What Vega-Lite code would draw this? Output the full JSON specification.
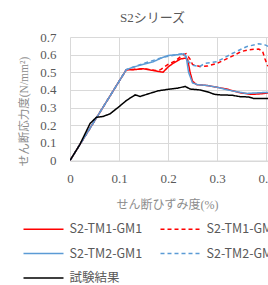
{
  "$schema": "https://vega.github.io/schema/vega-lite/v6.json",
  "autosize": "none",
  "padding": {"left": 70, "top": 37, "right": 0, "bottom": 125},
  "width": 245,
  "height": 123.5,
  "background": "white",
  "title": {"text": "S2シリーズ", "font": "Liberation Serif, Noto Sans CJK JP", "fontSize": 13, "fontWeight": "normal", "color": "#595959", "anchor": "middle", "dx": -40, "offset": 6},
  "config": {"view": {"stroke": null}},
  "data": {"values": [
    {"s": "S2-TM1-GM1", "x": 0, "y": 0},
    {"s": "S2-TM1-GM1", "x": 0.115, "y": 0.515},
    {"s": "S2-TM1-GM1", "x": 0.13, "y": 0.515},
    {"s": "S2-TM1-GM1", "x": 0.15, "y": 0.52},
    {"s": "S2-TM1-GM1", "x": 0.17, "y": 0.51},
    {"s": "S2-TM1-GM1", "x": 0.19, "y": 0.5},
    {"s": "S2-TM1-GM1", "x": 0.2, "y": 0.53},
    {"s": "S2-TM1-GM1", "x": 0.21, "y": 0.55},
    {"s": "S2-TM1-GM1", "x": 0.225, "y": 0.575},
    {"s": "S2-TM1-GM1", "x": 0.235, "y": 0.58},
    {"s": "S2-TM1-GM1", "x": 0.24, "y": 0.575},
    {"s": "S2-TM1-GM1", "x": 0.245, "y": 0.5},
    {"s": "S2-TM1-GM1", "x": 0.25, "y": 0.45},
    {"s": "S2-TM1-GM1", "x": 0.258, "y": 0.43},
    {"s": "S2-TM1-GM1", "x": 0.28, "y": 0.425},
    {"s": "S2-TM1-GM1", "x": 0.3, "y": 0.415},
    {"s": "S2-TM1-GM1", "x": 0.32, "y": 0.405},
    {"s": "S2-TM1-GM1", "x": 0.345, "y": 0.385},
    {"s": "S2-TM1-GM1", "x": 0.37, "y": 0.375},
    {"s": "S2-TM1-GM1", "x": 0.39, "y": 0.378},
    {"s": "S2-TM1-GM1", "x": 0.41, "y": 0.385},
    {"s": "S2-TM1-GM2", "x": 0, "y": 0},
    {"s": "S2-TM1-GM2", "x": 0.115, "y": 0.515},
    {"s": "S2-TM1-GM2", "x": 0.15, "y": 0.52},
    {"s": "S2-TM1-GM2", "x": 0.175, "y": 0.51},
    {"s": "S2-TM1-GM2", "x": 0.185, "y": 0.515},
    {"s": "S2-TM1-GM2", "x": 0.2, "y": 0.545},
    {"s": "S2-TM1-GM2", "x": 0.215, "y": 0.565},
    {"s": "S2-TM1-GM2", "x": 0.23, "y": 0.598},
    {"s": "S2-TM1-GM2", "x": 0.237, "y": 0.605},
    {"s": "S2-TM1-GM2", "x": 0.245, "y": 0.575},
    {"s": "S2-TM1-GM2", "x": 0.25, "y": 0.545},
    {"s": "S2-TM1-GM2", "x": 0.265, "y": 0.533},
    {"s": "S2-TM1-GM2", "x": 0.28, "y": 0.535},
    {"s": "S2-TM1-GM2", "x": 0.3, "y": 0.55},
    {"s": "S2-TM1-GM2", "x": 0.33, "y": 0.59},
    {"s": "S2-TM1-GM2", "x": 0.35, "y": 0.618},
    {"s": "S2-TM1-GM2", "x": 0.365, "y": 0.628},
    {"s": "S2-TM1-GM2", "x": 0.385, "y": 0.632},
    {"s": "S2-TM1-GM2", "x": 0.393, "y": 0.62},
    {"s": "S2-TM1-GM2", "x": 0.398, "y": 0.575},
    {"s": "S2-TM1-GM2", "x": 0.403, "y": 0.54},
    {"s": "S2-TM1-GM2", "x": 0.41, "y": 0.52},
    {"s": "S2-TM2-GM1", "x": 0, "y": 0},
    {"s": "S2-TM2-GM1", "x": 0.115, "y": 0.515},
    {"s": "S2-TM2-GM1", "x": 0.13, "y": 0.53},
    {"s": "S2-TM2-GM1", "x": 0.15, "y": 0.545},
    {"s": "S2-TM2-GM1", "x": 0.17, "y": 0.56},
    {"s": "S2-TM2-GM1", "x": 0.19, "y": 0.585},
    {"s": "S2-TM2-GM1", "x": 0.2, "y": 0.595},
    {"s": "S2-TM2-GM1", "x": 0.22, "y": 0.6},
    {"s": "S2-TM2-GM1", "x": 0.232, "y": 0.605},
    {"s": "S2-TM2-GM1", "x": 0.237, "y": 0.59},
    {"s": "S2-TM2-GM1", "x": 0.242, "y": 0.5},
    {"s": "S2-TM2-GM1", "x": 0.25, "y": 0.44},
    {"s": "S2-TM2-GM1", "x": 0.26, "y": 0.43},
    {"s": "S2-TM2-GM1", "x": 0.28, "y": 0.425},
    {"s": "S2-TM2-GM1", "x": 0.3, "y": 0.415},
    {"s": "S2-TM2-GM1", "x": 0.33, "y": 0.395},
    {"s": "S2-TM2-GM1", "x": 0.36, "y": 0.38},
    {"s": "S2-TM2-GM1", "x": 0.38, "y": 0.383},
    {"s": "S2-TM2-GM1", "x": 0.41, "y": 0.387},
    {"s": "S2-TM2-GM2", "x": 0, "y": 0},
    {"s": "S2-TM2-GM2", "x": 0.115, "y": 0.515},
    {"s": "S2-TM2-GM2", "x": 0.15, "y": 0.55},
    {"s": "S2-TM2-GM2", "x": 0.19, "y": 0.585},
    {"s": "S2-TM2-GM2", "x": 0.22, "y": 0.6},
    {"s": "S2-TM2-GM2", "x": 0.232, "y": 0.608},
    {"s": "S2-TM2-GM2", "x": 0.24, "y": 0.565},
    {"s": "S2-TM2-GM2", "x": 0.25, "y": 0.54},
    {"s": "S2-TM2-GM2", "x": 0.265, "y": 0.533},
    {"s": "S2-TM2-GM2", "x": 0.275, "y": 0.55},
    {"s": "S2-TM2-GM2", "x": 0.3, "y": 0.56},
    {"s": "S2-TM2-GM2", "x": 0.33, "y": 0.605},
    {"s": "S2-TM2-GM2", "x": 0.36, "y": 0.645},
    {"s": "S2-TM2-GM2", "x": 0.385, "y": 0.662},
    {"s": "S2-TM2-GM2", "x": 0.398, "y": 0.655},
    {"s": "S2-TM2-GM2", "x": 0.41, "y": 0.64},
    {"s": "試験結果", "x": 0, "y": 0},
    {"s": "試験結果", "x": 0.02, "y": 0.09},
    {"s": "試験結果", "x": 0.041, "y": 0.21},
    {"s": "試験結果", "x": 0.054, "y": 0.245},
    {"s": "試験結果", "x": 0.068, "y": 0.25},
    {"s": "試験結果", "x": 0.082, "y": 0.265},
    {"s": "試験結果", "x": 0.1, "y": 0.305},
    {"s": "試験結果", "x": 0.115, "y": 0.34},
    {"s": "試験結果", "x": 0.133, "y": 0.372},
    {"s": "試験結果", "x": 0.143, "y": 0.363},
    {"s": "試験結果", "x": 0.16, "y": 0.378},
    {"s": "試験結果", "x": 0.18, "y": 0.395},
    {"s": "試験結果", "x": 0.204, "y": 0.405},
    {"s": "試験結果", "x": 0.22, "y": 0.41},
    {"s": "試験結果", "x": 0.235, "y": 0.42},
    {"s": "試験結果", "x": 0.245, "y": 0.405},
    {"s": "試験結果", "x": 0.265, "y": 0.4},
    {"s": "試験結果", "x": 0.28, "y": 0.39},
    {"s": "試験結果", "x": 0.295, "y": 0.375},
    {"s": "試験結果", "x": 0.306, "y": 0.372},
    {"s": "試験結果", "x": 0.33, "y": 0.37},
    {"s": "試験結果", "x": 0.347, "y": 0.362},
    {"s": "試験結果", "x": 0.365, "y": 0.36},
    {"s": "試験結果", "x": 0.374, "y": 0.352},
    {"s": "試験結果", "x": 0.41, "y": 0.352}
  ]},
  "mark": {"type": "line", "strokeWidth": 1.5, "clip": true},
  "encoding": {
    "x": {"field": "x", "type": "quantitative", "scale": {"domain": [0, 0.5], "nice": false},
      "axis": {"values": [0, 0.1, 0.2, 0.3, 0.4, 0.5], "format": ".1~f", "title": "せん断ひずみ度(%)", "titleFont": "Liberation Serif, Noto Sans CJK JP", "titleFontSize": 12, "titleFontWeight": "normal", "titleColor": "#8c8c8c", "titleX": 97, "titlePadding": 14,
        "labelFont": "Liberation Serif", "labelFontSize": 13, "labelColor": "#595959", "labelPadding": 12, "ticks": false,
        "gridColor": "#D9D9D9", "domainColor": "#D9D9D9", "labelFlush": false, "labelOverlap": false}},
    "y": {"field": "y", "type": "quantitative", "scale": {"domain": [0, 0.7], "nice": false},
      "axis": {"values": [0, 0.1, 0.2, 0.3, 0.4, 0.5, 0.6, 0.7], "format": ".1~f", "title": "せん断応力度(N/mm²)", "titleFont": "Liberation Serif, Noto Sans CJK JP", "titleFontSize": 11.5, "titleFontWeight": "normal", "titleColor": "#8c8c8c", "titleY": 74, "titlePadding": 10,
        "labelFont": "Liberation Serif", "labelFontSize": 13, "labelColor": "#595959", "labelPadding": 14, "ticks": false, "domain": false,
        "gridColor": "#D9D9D9", "labelFlush": false, "labelOverlap": false}},
    "color": {"field": "s", "type": "nominal", "title": null,
      "scale": {"domain": ["S2-TM1-GM1", "S2-TM2-GM1", "試験結果", "S2-TM1-GM2", "S2-TM2-GM2"], "range": ["#FF0000", "#5B9BD5", "#000000", "#FF0000", "#5B9BD5"]},
      "legend": {"orient": "none", "legendX": -37.5, "legendY": 181, "columns": 2, "columnPadding": 15, "rowPadding": 6.5,
        "symbolType": "M-2,0H2", "symbolSize": 400, "symbolStrokeWidth": 1.5, "symbolFillColor": "transparent", "labelFont": "Noto Sans CJK JP", "labelFontSize": 12.5, "labelColor": "#595959", "labelOffset": 15, "labelLimit": 0}},
    "strokeDash": {"field": "s", "type": "nominal", "title": null,
      "scale": {"domain": ["S2-TM1-GM1", "S2-TM2-GM1", "試験結果", "S2-TM1-GM2", "S2-TM2-GM2"], "range": [[1, 0], [1, 0], [1, 0], [4, 3], [4, 3]]}}
  }
}
